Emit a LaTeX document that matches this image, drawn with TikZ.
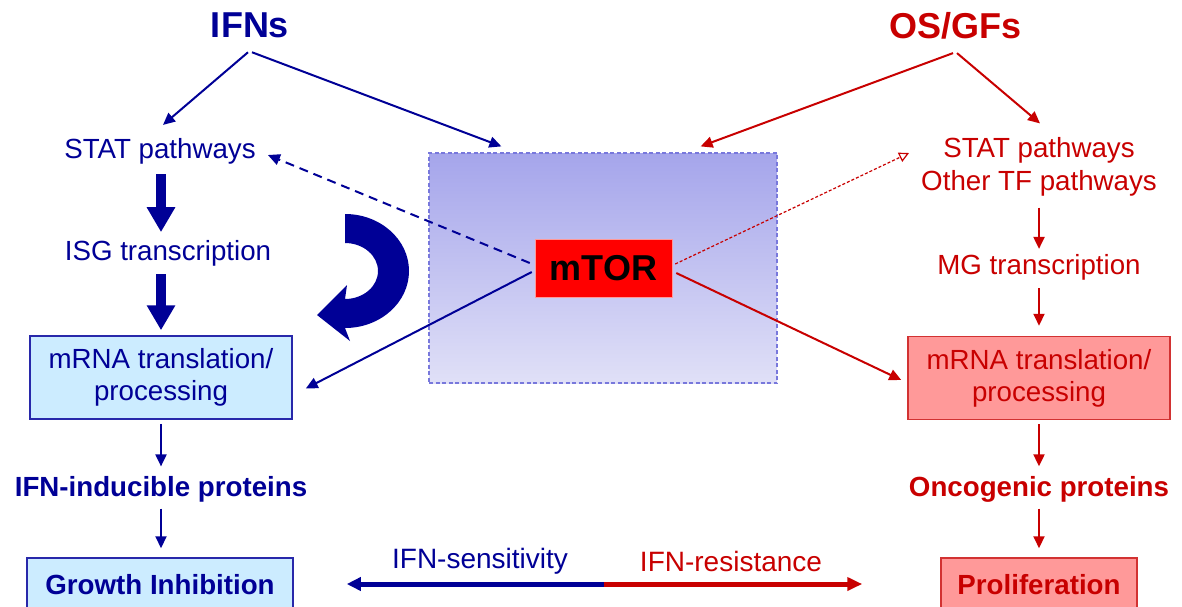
\documentclass[tikz,border=0pt]{standalone}
\usepackage{fontspec}
\setmainfont{Liberation Sans}
\usetikzlibrary{arrows.meta,calc}
\definecolor{ifnblue}{RGB}{0,0,150}
\definecolor{osred}{RGB}{200,0,0}
\definecolor{lbfill}{RGB}{204,236,255}
\definecolor{lbdraw}{RGB}{40,40,170}
\definecolor{rbfill}{RGB}{255,153,153}
\definecolor{rbdraw}{RGB}{210,50,50}
\definecolor{ctop}{RGB}{165,165,235}
\definecolor{cbot}{RGB}{224,224,247}
\definecolor{cdraw}{RGB}{120,120,220}
\definecolor{mtorred}{RGB}{255,0,0}
\tikzset{
  txt/.style={font=\fontsize{27.7}{33}\selectfont, inner xsep=4pt, inner ysep=10pt, align=center},
  btxt/.style={font=\fontsize{27.7}{33}\selectfont\bfseries, inner xsep=4pt, inner ysep=10pt, align=center},
  title/.style={font=\fontsize{36}{40}\selectfont\bfseries, inner xsep=0pt, inner ysep=14pt},
  lbox/.style={draw=lbdraw, fill=lbfill, line width=1.5pt, inner sep=0pt, align=center},
  rbox/.style={draw=rbdraw, fill=rbfill, line width=1.5pt, inner sep=0pt, align=center},
  thinarr/.style={line width=2pt, -{Triangle[length=12pt,width=11pt]}},
  thickarr/.style={line width=10pt, -{Triangle[length=25pt,width=27pt]}},
}
\begin{document}
\begin{tikzpicture}[x=1pt,y=-1pt]
\useasboundingbox (0,0) rectangle (1182,606);

% center box
\node[draw=cdraw, dash pattern=on 4pt off 2.5pt, line width=1.2pt, top color=ctop, bottom color=cbot,
      minimum width=348pt, minimum height=230pt, inner sep=0pt] (cbox) at (603,268) {};
\node[fill=mtorred, draw=rbfill, line width=0.5pt, minimum width=137pt, minimum height=58pt, inner sep=0pt,
      font=\fontsize{36}{40}\selectfont\bfseries, text=black] (mtor) at (603.5,268) {mTOR};

% titles
\node[title, text=ifnblue] (ifns) at (250,25.5) {IFNs};
\node[title, text=osred] (os) at (955,25.5) {OS/GFs};

% left column
\node[txt, text=ifnblue] (stL) at (160,151) {STAT pathways};
\node[txt, text=ifnblue] (isg) at (168,253) {ISG transcription};
\node[lbox, text=ifnblue, font=\fontsize{27.7}{32}\selectfont, minimum width=262pt, minimum height=83pt] (boxL) at (161,377.5) {mRNA translation/\\processing};
\node[btxt, text=ifnblue] (ifnp) at (161,489.5) {IFN-inducible proteins};
\node[lbox, text=ifnblue, font=\fontsize{27.7}{33}\selectfont\bfseries, minimum width=266pt, minimum height=54pt] (gi) at (160,585) {Growth Inhibition};

% right column
\node[txt, text=osred] (stR) at (1039,167) {STAT pathways\\Other TF pathways};
\node[txt, text=osred] (mg) at (1039,267) {MG transcription};
\node[rbox, text=osred, font=\fontsize{27.7}{32}\selectfont, minimum width=262pt, minimum height=83pt] (boxR) at (1039,378) {mRNA translation/\\processing};
\node[btxt, text=osred] (onc) at (1039,489.5) {Oncogenic proteins};
\node[rbox, text=osred, font=\fontsize{27.7}{33}\selectfont\bfseries, minimum width=196pt, minimum height=54pt] (prol) at (1039,585) {Proliferation};

% title arrows
\draw[thinarr, ifnblue] ($(ifns.south)+(-2,0)$) -- ($(stL.north)+(3,-3)$);
\draw[thinarr, ifnblue] ($(ifns.south)+(2,0)$) -- ($(cbox.north west)+(73,-6)$);
\draw[thinarr, osred] ($(os.south)+(-2,0)$) -- ($(cbox.north east)+(-77,-6)$);
\draw[thinarr, osred] ($(os.south)+(2,0)$) -- ($(stR.north)+(1,-4)$);

% left column arrows
\draw[thickarr, ifnblue] ($(stL.south)+(1,0)$) -- ($(stL.south -| boxL.north)+(0,58)$);
\draw[thickarr, ifnblue] ($(isg.south -| boxL.north)+(0,-2)$) -- ($(boxL.north)+(0,-5)$);
\draw[thinarr, ifnblue] ($(boxL.south)+(0,4)$) -- (ifnp.north);
\draw[thinarr, ifnblue] ($(ifnp.south)+(0,-4)$) -- ($(ifnp.south |- gi.north)+(0,-9)$);

% right column arrows
\draw[thinarr, osred] ($(stR.south)+(0,1)$) -- ($(mg.north)+(0,5)$);
\draw[thinarr, osred] ($(mg.south)+(0,-2)$) -- ($(boxR.north)+(0,-10)$);
\draw[thinarr, osred] ($(boxR.south)+(0,4)$) -- (onc.north);
\draw[thinarr, osred] ($(onc.south)+(0,-4)$) -- ($(prol.north)+(0,-9)$);

% mTOR connectors
\draw[ifnblue, line width=2pt, dash pattern=on 9pt off 6pt, -{Triangle[length=12pt,width=11pt]}]
  ($(mtor.west)+(-5,-5)$) -- ($(stL.east)+(8,4)$);
\draw[thinarr, ifnblue] ($(mtor.west)+(-3,4)$) -- ($(boxL.east)+(13,11)$);
\draw[osred, line width=1.2pt, dash pattern=on 3pt off 2pt, -{Triangle[open,length=10pt,width=10pt]}]
  ($(mtor.east)+(3,-4)$) -- ($(stR.west)+(-8,-14)$);
\draw[thinarr, osred] ($(mtor.east)+(4,5)$) -- ($(boxR.west)+(-6,2)$);

% curved feedback arrow
\fill[ifnblue] (345,214) arc[start angle=-90,end angle=90,x radius=64,y radius=57]
  -- (350,341) -- (317,315) -- (347,285) -- (345,299)
  arc[start angle=90,end angle=-90,x radius=33,y radius=28] -- cycle;

% bottom double arrow
\coordinate (mid) at (604,584);
\coordinate (bl) at ($(gi.east)+(53,-1)$);
\coordinate (br) at ($(prol.west)+(-78,-1)$);
\draw[ifnblue, line width=5pt, -{Triangle[length=14pt,width=13pt]}] (mid) -- (bl);
\draw[osred, line width=5pt, -{Triangle[length=15pt,width=13pt]}] (mid) -- (br);
\node[font=\fontsize{28}{33}\selectfont, text=ifnblue, inner sep=0pt] (sens) at (480,561) {IFN-sensitivity};
\node[font=\fontsize{28}{33}\selectfont, text=osred, inner sep=0pt] (res) at (731,561) {IFN-resistance};
\end{tikzpicture}
\end{document}
